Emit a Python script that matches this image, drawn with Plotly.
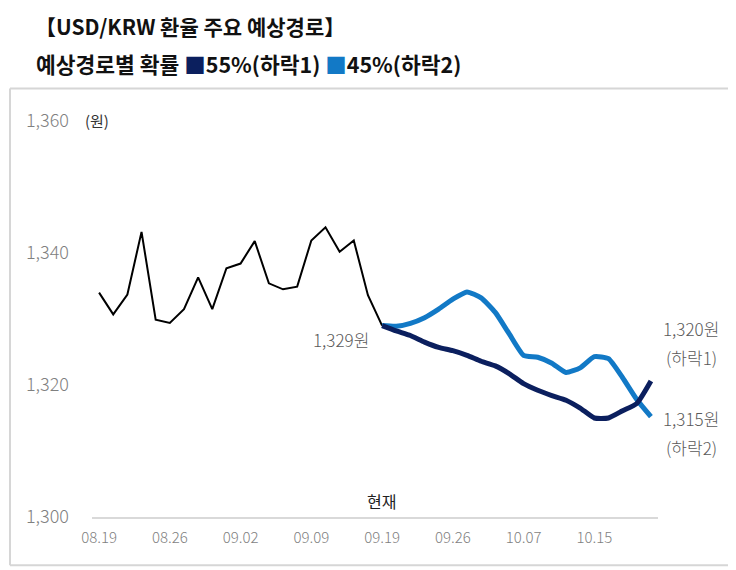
import plotly.graph_objects as go

# ---- data ----
tick_labels = ["08.19", "08.26", "09.02", "09.09", "09.19", "09.26", "10.07", "10.15"]
tick_index = [0, 5, 10, 15, 20, 25, 30, 35]

actual_x = list(range(0, 21))
actual = [1334.0, 1330.7, 1333.7, 1343.2, 1329.9, 1329.4, 1331.5, 1336.3, 1331.5, 1337.7,
          1338.4, 1341.8, 1335.4, 1334.5, 1334.9, 1341.9, 1343.9, 1340.2, 1341.9, 1333.6,
          1329.0]

proj_x = list(range(20, 40))
path1 = [1329.0, 1328.2, 1327.5, 1326.5, 1325.7, 1325.2, 1324.5, 1323.6, 1322.9, 1321.7,
         1320.2, 1319.2, 1318.4, 1317.7, 1316.5, 1315.0, 1315.0, 1316.1, 1317.2, 1320.6]
path2 = [1329.0, 1328.9, 1329.35, 1330.2, 1331.5, 1333.0, 1334.1, 1333.2, 1331.0, 1327.7,
         1324.5, 1324.2, 1323.3, 1321.9, 1322.6, 1324.3, 1324.0, 1321.1, 1317.8, 1315.2]

y_ticks = [1300, 1320, 1340, 1360]

NAVY = "#0B1F5E"
BLUE = "#1279C6"
FONT = "Noto Sans CJK KR"

# page body has an 8px default margin; lay out in window coordinates and shift
OFF = 8
W, H = 736 - OFF, 570 - OFF
# plot area in window pixels
PX0, PX1 = 92, 658
PY0, PY1 = 120.5, 516.7
L, R, T, B = PX0 - OFF, W - (PX1 - OFF), PY0 - OFF, H - (PY1 - OFF)
pw = PX1 - PX0
ph = PY1 - PY0


def px(x):
    return (x - PX0) / pw


def py(y):
    return (PY1 - y) / ph


fig = go.Figure()
fig.add_trace(go.Scatter(x=actual_x, y=actual, mode="lines",
                         line=dict(color="#000000", width=2), showlegend=False))
fig.add_trace(go.Scatter(x=proj_x, y=path2, mode="lines",
                         line=dict(color=BLUE, width=5, shape="spline", smoothing=0.5),
                         showlegend=False))
fig.add_trace(go.Scatter(x=proj_x, y=path1, mode="lines",
                         line=dict(color=NAVY, width=5, shape="spline", smoothing=0.5),
                         showlegend=False))

fig.update_layout(
    width=W, height=H,
    margin=dict(l=L, r=R, t=T, b=B, autoexpand=False),
    paper_bgcolor="white", plot_bgcolor="white",
    font=dict(family=FONT),
    showlegend=False,
)
fig.update_xaxes(
    range=[-0.5, 39.5], tickvals=tick_index, ticktext=tick_labels,
    showgrid=False, zeroline=False, showline=True, linecolor="#d9d9d9", linewidth=2,
    ticks="", tickfont=dict(size=15, color="#7f7f7f", family=FONT, weight=300),
    ticklabelstandoff=6,
)
fig.update_yaxes(
    range=[1300, 1360], tickvals=y_ticks, ticktext=[f"{v:,}" for v in y_ticks],
    showgrid=False, zeroline=False, showline=False, ticks="",
    tickfont=dict(size=18, color="#808080", family=FONT, weight=300),
    ticklabelstandoff=22,
)

# frame (left/top/right/bottom as separate lines)
frame_l, frame_r, frame_t, frame_b = 10, 730, 88, 565
for x0, x1, y0, y1 in [(frame_l, frame_l, frame_t, frame_b), (frame_r, frame_r, frame_t, frame_b),
                       (frame_l, frame_r, frame_t, frame_t), (frame_l, frame_r, frame_b, frame_b)]:
    fig.add_shape(type="line", xref="paper", yref="paper",
                  x0=px(x0), x1=px(x1), y0=py(y0), y1=py(y1),
                  line=dict(color="#d6d6d6", width=2), layer="below")

ann = []
ann.append(dict(text="<b>【USD/KRW 환율 주요 예상경로】</b>", x=px(33), y=py(25),
                xanchor="left", yanchor="middle", font=dict(size=21, color="#111111")))
ann.append(dict(text=("<b>예상경로별 확률 <span style='color:%s'>■</span>55%%(하락1) "
                      "<span style='color:%s'>■</span>45%%(하락2)</b>") % (NAVY, BLUE),
                x=px(34), y=py(63), xanchor="left", yanchor="middle",
                font=dict(size=21.5, color="#111111")))
ann.append(dict(text="(원)", x=px(83), y=py(120), xanchor="left", yanchor="middle",
                font=dict(size=15, color="#333333")))
ann.append(dict(text="1,329원", x=px(371), y=py(339), xanchor="right", yanchor="middle",
                font=dict(size=17, color="#595959", weight=300)))
ann.append(dict(text="현재", x=px(381), y=py(501), xanchor="center", yanchor="middle",
                font=dict(size=16, color="#222222")))
for txt, yy in [("1,320원", 328), ("(하락1)", 357), ("1,315원", 418), ("(하락2)", 447)]:
    ann.append(dict(text=txt, x=px(691), y=py(yy), xanchor="center", yanchor="middle",
                    font=dict(size=17, color="#595959", weight=300)))
for a in ann:
    a.update(xref="paper", yref="paper", showarrow=False)
fig.update_layout(annotations=ann)

fig.write_html("out.html")
